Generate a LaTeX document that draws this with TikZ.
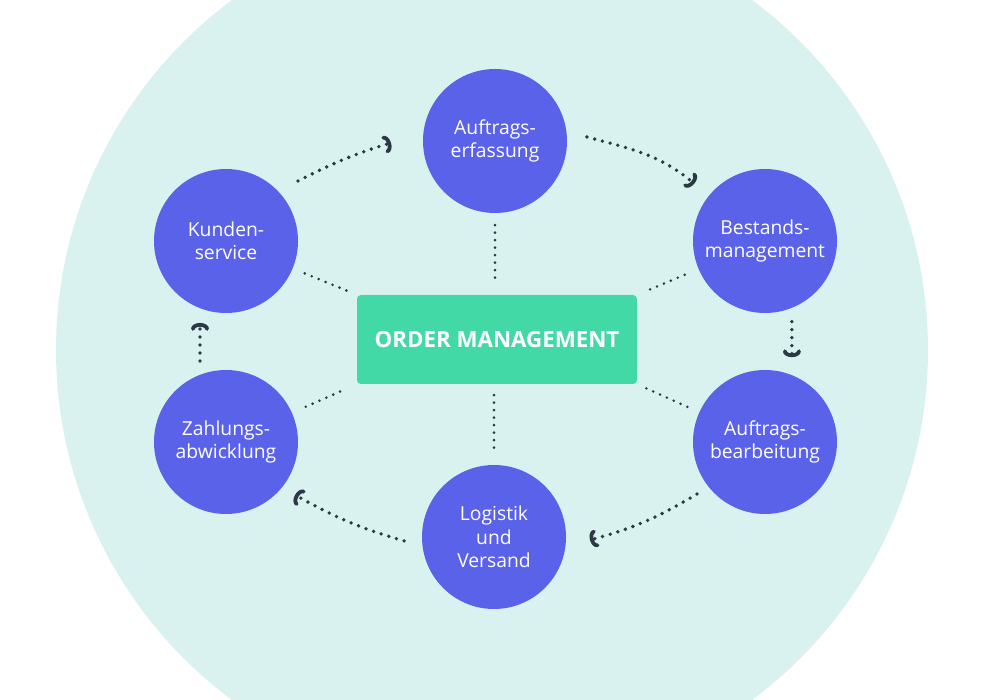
\documentclass[tikz,border=0pt]{standalone}
\usepackage{fontspec}
\setmainfont{Open Sans}
\usetikzlibrary{arrows.meta}
\definecolor{bgmint}{HTML}{D9F2F0}
\definecolor{circblue}{HTML}{5A62EA}
\definecolor{omgreen}{HTML}{42D9A6}
\definecolor{dotgray}{HTML}{2C3945}
\begin{document}
\begin{tikzpicture}[x=1pt,y=1pt,
  stage/.style={circle, fill=circblue, minimum size=144pt, inner sep=0pt, text=white, align=center,
    font=\fontsize{19.3}{23.5}\selectfont},
  hub/.style={rectangle, rounded corners=4pt, fill=omgreen, minimum width=280pt, minimum height=89pt,
    inner sep=0pt, text=white, font=\bfseries\fontsize{22.3}{26}\selectfont},
  spoke/.style={draw=dotgray, line width=2.9pt, line cap=round, dash pattern=on 0pt off 7.5pt},
  cycleflow/.style={draw=dotgray, line width=3.8pt, line cap=round, dash pattern=on 0pt off 8pt,
    -{Arc Barb[length=6pt,width=18pt,arc=180,line width=3.8pt,round]}}
]
\useasboundingbox (0,0) rectangle (985,700);
\fill[white] (0,0) rectangle (985,700);
\begin{scope}
  \clip (0,0) rectangle (985,700);
  \fill[bgmint] (492,350) circle (436);
\end{scope}

\node[hub] (om) at (497,360.5) {ORDER MANAGEMENT};
\node[stage] (auf) at (495,559) {Auftrags-\\erfassung};
\node[stage] (kun) at (226,459) {Kunden-\\service};
\node[stage] (bes) at (765,459) {Bestands-\\management};
\node[stage] (zah) at (226,258) {Zahlungs-\\abwicklung};
\node[stage] (bea) at (765,258) {Auftrags-\\bearbeitung};
\node[stage] (log) at (494,163) {Logistik\\und\\Versand};

% spokes
\draw[spoke, shorten <=12pt, shorten >=10pt] (auf.south) -- (auf.south |- om.north);
\draw[spoke, shorten <=11pt, shorten >=10pt] (om.south -| log) -- (log.north);
\draw[spoke, shorten <=13pt, shorten >=10pt] (kun) -- (om.north west);
\draw[spoke, shorten <=15pt, shorten >=10pt] (bes) -- (om.north east);
\draw[spoke, shorten <=15pt, shorten >=13pt] (zah) -- (om.south west);
\draw[spoke, shorten <=13pt, shorten >=10pt] (bea) -- (om.south east);

% cycle arrows
\draw[cycleflow] ([shift={(39.8:93.7)}]kun.center) to[out=27,in=197] ([shift={(181:104)}]auf.center);
\draw[cycleflow] ([shift={(2.5:92)}]auf.center) to[out=-15,in=140] ([shift={(141:91)}]bes.center);
\draw[cycleflow] ([shift={(-71.6:85)}]bes.center) -- ([shift={(72.4:89)}]bea.center);
\draw[cycleflow] ([shift={(217.4:85.6)}]bea.center) to[out=211,in=15] ([shift={(-1.8:96)}]log.center);
\draw[cycleflow] ([shift={(182.5:90)}]log.center) to[out=164,in=-29] ([shift={(-37.5:87)}]zah.center);
\draw[cycleflow] ([shift={(107.8:85)}]zah.center) -- ([shift={(-107.6:86)}]kun.center);
\end{tikzpicture}
\end{document}
